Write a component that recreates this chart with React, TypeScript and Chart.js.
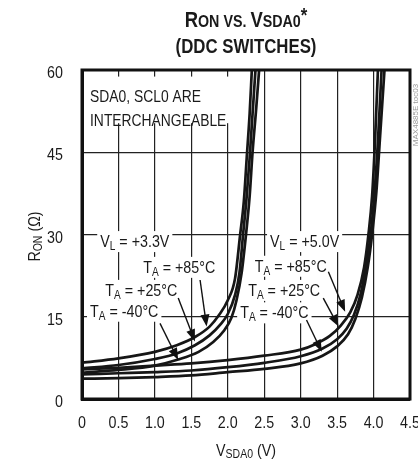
import { useEffect, useRef } from 'react';
import { Chart, registerables } from 'chart.js';

Chart.register(...registerables);

const FONT = '"Liberation Sans", Arial, sans-serif';
const CONDENSE = 0.84;

// ---------- data ----------
const xTickValues = [0, 0.5, 1.0, 1.5, 2.0, 2.5, 3.0, 3.5, 4.0, 4.5];
const xTickLabels = ['0', '0.5', '1.0', '1.5', '2.0', '2.5', '3.0', '3.5', '4.0', '4.5'];
const yTickValues = [0, 15, 30, 45, 60];
const yTickLabels = ['0', '15', '30', '45', '60'];

// VL = +3.3V
const v33_85C_x = [0, 0.5, 1.0, 1.3, 1.55, 1.75, 1.88, 2.0, 2.1, 2.17, 2.22, 2.26, 2.3, 2.33];
const v33_85C_y = [6.6, 7.4, 8.6, 9.8, 11.3, 13.2, 15.3, 18, 22, 30, 36, 44, 52, 60];
const v33_25C_x = [0, 0.5, 1.0, 1.3, 1.55, 1.75, 1.9, 2.0, 2.1, 2.16, 2.21, 2.26, 2.3, 2.34, 2.38];
const v33_25C_y = [5.6, 6.2, 7.3, 8.3, 9.8, 11.6, 13.6, 15.5, 19, 23, 30, 37, 44, 52, 60];
const v33_m40C_x = [0, 0.5, 1.0, 1.32, 1.6, 1.8, 1.95, 2.05, 2.12, 2.19, 2.25, 2.3, 2.34, 2.39, 2.43];
const v33_m40C_y = [4.8, 5.3, 6.1, 7.2, 8.6, 10.4, 12.5, 14.8, 18, 23, 30, 37, 45, 53, 60];

// VL = +5.0V
const v50_85C_x = [0, 0.5, 1.0, 1.5, 2.0, 2.5, 3.0, 3.2, 3.4, 3.55, 3.68, 3.78, 3.87, 3.93, 3.98, 4.02, 4.06];
const v50_85C_y = [5.4, 5.7, 6.1, 6.5, 7.1, 7.9, 9.0, 10.0, 11.5, 13.4, 15.8, 19, 24, 30, 37, 47, 60];
const v50_25C_x = [0, 0.5, 1.0, 1.5, 2.0, 2.5, 3.0, 3.3, 3.5, 3.63, 3.73, 3.82, 3.9, 3.96, 4.01, 4.06, 4.11];
const v50_25C_y = [4.5, 4.7, 4.9, 5.2, 5.8, 6.6, 7.8, 9.2, 10.9, 12.8, 15.3, 19, 24.5, 30, 37, 47, 60];
const v50_m40C_x = [0, 0.5, 1.0, 1.5, 2.0, 2.5, 3.0, 3.3, 3.5, 3.65, 3.75, 3.84, 3.92, 3.98, 4.04, 4.09, 4.15];
const v50_m40C_y = [3.7, 3.8, 4.0, 4.3, 4.9, 5.5, 6.5, 7.9, 9.6, 11.8, 14.6, 18.5, 24, 30, 38, 48, 60];

const seriesX = [v33_85C_x, v33_25C_x, v33_m40C_x, v50_85C_x, v50_25C_x, v50_m40C_x];
const seriesY = [v33_85C_y, v33_25C_y, v33_m40C_y, v50_85C_y, v50_25C_y, v50_m40C_y];

// ---------- annotations (data coordinates) ----------
const tempLabels = ['+85°C', '+25°C', '-40°C'];
const label33X = [0.84, 0.32, 0.11];
const label33Y = [24.1, 19.9, 16.1];
const label50X = [2.37, 2.28, 2.17];
const label50Y = [24.3, 19.9, 15.8];
const arrow33From = [[1.62, 21.7], [1.32, 18.4], [1.07, 13.8]];
const arrow33To = [[1.71, 13.2], [1.55, 10.5], [1.32, 7.1]];
const arrow50From = [[3.38, 23.2], [3.31, 18.4], [3.08, 14.4]];
const arrow50To = [[3.61, 15.9], [3.52, 13.2], [3.29, 8.6]];

type Seg = { t: string; s: number; dy?: number; b?: boolean };

function richWidth(ctx: CanvasRenderingContext2D, segs: Seg[]) {
  let w = 0;
  for (const g of segs) {
    ctx.font = `${g.b ? 'bold ' : ''}${g.s}px ${FONT}`;
    w += ctx.measureText(g.t).width * CONDENSE;
  }
  return w;
}

function drawRich(ctx: CanvasRenderingContext2D, x: number, y: number, segs: Seg[], align: 'left' | 'center' | 'right') {
  const w = richWidth(ctx, segs);
  let cx = align === 'left' ? x : align === 'center' ? x - w / 2 : x - w;
  ctx.textBaseline = 'alphabetic';
  ctx.textAlign = 'left';
  for (const g of segs) {
    ctx.font = `${g.b ? 'bold ' : ''}${g.s}px ${FONT}`;
    ctx.save();
    ctx.translate(cx, y + (g.dy || 0));
    ctx.scale(CONDENSE, 1);
    ctx.fillText(g.t, 0, 0);
    ctx.restore();
    cx += ctx.measureText(g.t).width * CONDENSE;
  }
  return w;
}

function boxedLabel(ctx: CanvasRenderingContext2D, x: number, yc: number, segs: Seg[]) {
  const w = richWidth(ctx, segs);
  ctx.fillStyle = '#fff';
  ctx.fillRect(x - 3, yc - 10, w + 6, 21);
  ctx.fillStyle = '#1a1a1a';
  drawRich(ctx, x, yc + 6, segs, 'left');
}

function arrow(ctx: CanvasRenderingContext2D, x1: number, y1: number, x2: number, y2: number) {
  const ang = Math.atan2(y2 - y1, x2 - x1);
  const L = 12;
  const W = 4.5;
  ctx.strokeStyle = '#111';
  ctx.lineWidth = 1.4;
  ctx.beginPath();
  ctx.moveTo(x1, y1);
  ctx.lineTo(x2 - Math.cos(ang) * L * 0.8, y2 - Math.sin(ang) * L * 0.8);
  ctx.stroke();
  ctx.fillStyle = '#111';
  ctx.beginPath();
  ctx.moveTo(x2, y2);
  ctx.lineTo(x2 - Math.cos(ang) * L - Math.sin(ang) * W, y2 - Math.sin(ang) * L + Math.cos(ang) * W);
  ctx.lineTo(x2 - Math.cos(ang) * L + Math.sin(ang) * W, y2 - Math.sin(ang) * L - Math.cos(ang) * W);
  ctx.closePath();
  ctx.fill();
}

const decorPlugin = {
  id: 'decor',
  beforeDatasetsDraw(chart: any) {
    const ctx: CanvasRenderingContext2D = chart.ctx;
    const xs = chart.scales.x;
    const ys = chart.scales.y;
    const ca = chart.chartArea;
    ctx.save();
    // interchangeable note
    ctx.fillStyle = '#fff';
    ctx.fillRect(ca.left + 2, ys.getPixelForValue(58.8), xs.getPixelForValue(2.05) - ca.left - 2, ys.getPixelForValue(50.3) - ys.getPixelForValue(58.8));
    ctx.fillStyle = '#1a1a1a';
    drawRich(ctx, xs.getPixelForValue(0.11), ys.getPixelForValue(55.3) + 6, [{ t: 'SDA0, SCL0 ARE', s: 16.5 }], 'left');
    drawRich(ctx, xs.getPixelForValue(0.11), ys.getPixelForValue(50.9) + 6, [{ t: 'INTERCHANGEABLE', s: 16.5 }], 'left');
    // VL labels
    boxedLabel(ctx, xs.getPixelForValue(0.25), ys.getPixelForValue(28.8), [{ t: 'V', s: 17 }, { t: 'L', s: 12, dy: 3 }, { t: ' = +3.3V', s: 17 }]);
    boxedLabel(ctx, xs.getPixelForValue(2.58), ys.getPixelForValue(28.8), [{ t: 'V', s: 17 }, { t: 'L', s: 12, dy: 3 }, { t: ' = +5.0V', s: 17 }]);
    // temp labels
    for (let i = 0; i < 3; i++) {
      const segs: Seg[] = [{ t: 'T', s: 17 }, { t: 'A', s: 12, dy: 3 }, { t: ' = ' + tempLabels[i], s: 17 }];
      boxedLabel(ctx, xs.getPixelForValue(label33X[i]), ys.getPixelForValue(label33Y[i]), segs);
      boxedLabel(ctx, xs.getPixelForValue(label50X[i]), ys.getPixelForValue(label50Y[i]), segs);
    }
    ctx.restore();
  },
  afterDatasetsDraw(chart: any) {
    const ctx: CanvasRenderingContext2D = chart.ctx;
    const xs = chart.scales.x;
    const ys = chart.scales.y;
    const ca = chart.chartArea;
    ctx.save();
    for (let i = 0; i < 3; i++) {
      arrow(ctx, xs.getPixelForValue(arrow33From[i][0]), ys.getPixelForValue(arrow33From[i][1]), xs.getPixelForValue(arrow33To[i][0]), ys.getPixelForValue(arrow33To[i][1]));
      arrow(ctx, xs.getPixelForValue(arrow50From[i][0]), ys.getPixelForValue(arrow50From[i][1]), xs.getPixelForValue(arrow50To[i][0]), ys.getPixelForValue(arrow50To[i][1]));
    }
    // frame
    ctx.strokeStyle = '#111';
    ctx.lineWidth = 3;
    ctx.strokeRect(ca.left, ca.top, ca.right - ca.left, ca.bottom - ca.top);
    ctx.fillStyle = '#1a1a1a';
    // tick labels
    xTickValues.forEach((v, i) => {
      drawRich(ctx, xs.getPixelForValue(v), ca.bottom + 29, [{ t: xTickLabels[i], s: 17 }], 'center');
    });
    yTickValues.forEach((v, i) => {
      drawRich(ctx, ca.left - 19, ys.getPixelForValue(v) + 8, [{ t: yTickLabels[i], s: 17 }], 'right');
    });
    // titles
    const cx = (ca.left + ca.right) / 2;
    drawRich(ctx, cx, 27, [
      { t: 'R', s: 22, b: true },
      { t: 'ON', s: 17, b: true },
      { t: ' VS. ', s: 17, b: true },
      { t: 'V', s: 22, b: true },
      { t: 'SDA0', s: 17, b: true },
      { t: '*', s: 20, b: true, dy: -5 },
    ], 'center');
    drawRich(ctx, cx, 53, [{ t: '(DDC SWITCHES)', s: 20, b: true }], 'center');
    // x axis title
    drawRich(ctx, cx, 456, [{ t: 'V', s: 17 }, { t: 'SDA0', s: 12.5, dy: 2 }, { t: ' (V)', s: 17 }], 'center');
    // y axis title
    ctx.save();
    ctx.translate(40, (ca.top + ca.bottom) / 2 + 2);
    ctx.rotate(-Math.PI / 2);
    drawRich(ctx, 0, 0, [{ t: 'R', s: 17 }, { t: 'ON', s: 12.5, dy: 2 }, { t: ' (Ω)', s: 17 }], 'center');
    ctx.restore();
    // watermark
    ctx.save();
    ctx.translate(418, ca.top + 45);
    ctx.rotate(-Math.PI / 2);
    ctx.fillStyle = '#999';
    ctx.font = `8px ${FONT}`;
    ctx.textAlign = 'center';
    ctx.fillText('MAX4885E toc03', 0, 0);
    ctx.restore();
    ctx.restore();
  },
};

export default function App() {
  const ref = useRef<HTMLCanvasElement>(null);
  useEffect(() => {
    document.body.style.margin = '0';
    const canvas = ref.current!;
    const datasets = seriesX.map((xsArr, i) => ({
      data: xsArr.map((x, j) => ({ x, y: seriesY[i][j] })),
      borderColor: '#161616',
      borderWidth: 2.7,
      pointRadius: 0,
      fill: false,
      cubicInterpolationMode: 'monotone' as const,
    }));
    const chart = new Chart(canvas, {
      type: 'line',
      data: { datasets },
      options: {
        animation: false,
        responsive: false,
        devicePixelRatio: 1,
        layout: { padding: { top: 70, right: 8, left: 0, bottom: 0 } },
        plugins: { legend: { display: false }, title: { display: false }, tooltip: { enabled: false } },
        scales: {
          x: {
            type: 'linear',
            min: 0,
            max: 4.5,
            afterFit: (s: any) => { s.height = 62; },
            ticks: { stepSize: 0.5, display: false },
            grid: { color: '#222', lineWidth: 1.2, drawTicks: false },
            border: { display: true, color: '#111', width: 3 },
          },
          y: {
            type: 'linear',
            min: 0,
            max: 60,
            afterFit: (s: any) => { s.width = 82; },
            ticks: { stepSize: 15, display: false },
            grid: { color: '#222', lineWidth: 1.2, drawTicks: false },
            border: { display: true, color: '#111', width: 3 },
          },
        },
      },
      plugins: [decorPlugin],
    });
    return () => chart.destroy();
  }, []);
  return (
    <div style={{ width: 418, height: 461, background: '#fff' }}>
      <canvas ref={ref} width={418} height={461} style={{ display: 'block' }} />
    </div>
  );
}
